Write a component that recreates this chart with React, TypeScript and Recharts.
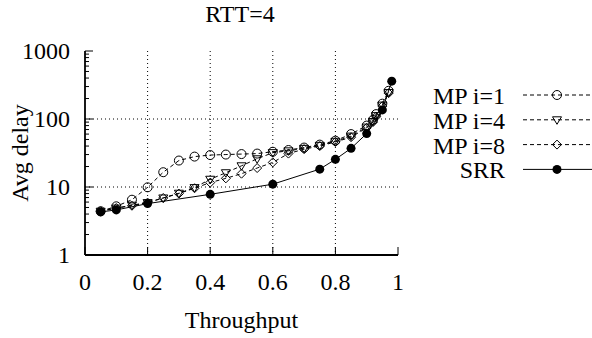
import { LineChart, Line, XAxis, YAxis, CartesianGrid, Legend } from "recharts";

const FONT = '"Liberation Serif", "Times New Roman", serif';
const FONT_SIZE = 24;
const textStyle = { fontFamily: FONT, fontSize: FONT_SIZE, fill: "#000" };

// throughput samples shared by the three MP runs
const mpThroughput = [
  0.05, 0.1, 0.15, 0.2, 0.25, 0.3, 0.35, 0.4, 0.45, 0.5, 0.55, 0.6, 0.65, 0.7,
  0.75, 0.8, 0.85, 0.9, 0.92, 0.93, 0.95, 0.97,
];
const mp1Delay = [
  4.4, 5.2, 6.5, 9.9, 16.5, 24.5, 28, 29.5, 30, 30.5, 31, 33, 35, 38, 42, 48,
  60, 80, 97, 118, 168, 260,
];
const mp4Delay = [
  4.4, 4.9, 5.4, 5.9, 6.9, 8.1, 9.8, 13, 16.2, 20.5, 26, 32, 34, 37, 41, 47, 56,
  76, 92, 112, 160, 245,
];
const mp8Delay = [
  4.4, 4.9, 5.3, 5.9, 6.9, 8.0, 9.6, 11.6, 13.4, 15.7, 19, 23, 31, 36, 40, 46,
  54, 74, 90, 108, 155, 240,
];

const srrThroughput = [0.05, 0.1, 0.2, 0.4, 0.6, 0.75, 0.8, 0.85, 0.9, 0.95, 0.98];
const srrDelay = [4.3, 4.6, 5.7, 7.8, 11, 18.3, 25.5, 37, 61, 136, 360];

const xTicks = [0, 0.2, 0.4, 0.6, 0.8, 1];
const xGrid = [0.2, 0.4, 0.6, 0.8];
const yMajor = [1, 10, 100, 1000];
const yGrid = [10, 100];
// log minor tics 2..9 inside every decade
const yMinor = yMajor
  .slice(0, -1)
  .flatMap((d) => [2, 3, 4, 5, 6, 7, 8, 9].map((k) => d * k));
const yTicks = [...yMajor, ...yMinor].sort((a, b) => a - b);

const Y_LABEL_GAP = 15;

type Shape = "circle" | "triangle" | "diamond" | "dot";

const toPoints = (xs: number[], ys: number[]) =>
  xs.map((t, i) => ({ throughput: t, delay: ys[i] }));

const series: { name: string; data: any[]; shape: Shape; dash?: string }[] = [
  { name: "MP i=1", data: toPoints(mpThroughput, mp1Delay), shape: "circle", dash: "4 3" },
  { name: "MP i=4", data: toPoints(mpThroughput, mp4Delay), shape: "triangle", dash: "4 3" },
  { name: "MP i=8", data: toPoints(mpThroughput, mp8Delay), shape: "diamond", dash: "4 3" },
  { name: "SRR", data: toPoints(srrThroughput, srrDelay), shape: "dot" },
];

function Marker({ cx, cy, shape }: { cx: number; cy: number; shape: Shape }) {
  const r = 4.5;
  if (shape === "dot") return <circle cx={cx} cy={cy} r={r} fill="#000" />;
  if (shape === "circle")
    return <circle cx={cx} cy={cy} r={r} fill="none" stroke="#000" strokeWidth={1} />;
  if (shape === "triangle")
    return (
      <polygon
        points={`${cx - r},${cy - 3} ${cx + r},${cy - 3} ${cx},${cy + r}`}
        fill="none"
        stroke="#000"
        strokeWidth={1}
      />
    );
  return (
    <polygon
      points={`${cx},${cy - r} ${cx + r},${cy} ${cx},${cy + r} ${cx - r},${cy}`}
      fill="none"
      stroke="#000"
      strokeWidth={1}
    />
  );
}

// ─── Axis tics (gnuplot style: drawn inward, mirrored) ───────────────────────

function LeftTick({ x, y, payload }: any) {
  const ax = x + Y_LABEL_GAP;
  const major = yMajor.includes(payload.value);
  return (
    <g>
      <line x1={ax} x2={ax + (major ? 8 : 4)} y1={y} y2={y} stroke="#000" />
      {major && (
        <text x={x} y={y + 8} textAnchor="end" style={textStyle}>
          {payload.value}
        </text>
      )}
    </g>
  );
}

function RightTick({ x, y, payload }: any) {
  const major = yMajor.includes(payload.value);
  return <line x1={x} x2={x - (major ? 8 : 4)} y1={y} y2={y} stroke="#000" />;
}

function BottomTick({ x, y, payload }: any) {
  return (
    <g>
      <line x1={x} x2={x} y1={y} y2={y - 8} stroke="#000" />
      <text x={x} y={y + 35} textAnchor="middle" style={textStyle}>
        {payload.value}
      </text>
    </g>
  );
}

function TopTick({ x, y }: any) {
  return <line x1={x} x2={x} y1={y} y2={y + 8} stroke="#000" />;
}

function XTitle({ viewBox }: any) {
  return (
    <text x={viewBox.x + viewBox.width / 2} y={viewBox.y + 73} textAnchor="middle" style={textStyle}>
      Throughput
    </text>
  );
}

function YTitle({ viewBox }: any) {
  const x = viewBox.x + 3;
  const y = viewBox.y + viewBox.height / 2;
  return (
    <text x={x} y={y} transform={`rotate(-90, ${x}, ${y})`} textAnchor="middle" style={textStyle}>
      Avg delay
    </text>
  );
}

function KeyBox({ payload }: any) {
  return (
    <svg width={172} height={110}>
      {(payload ?? []).map((entry: any, i: number) => {
        const s = series.find((it) => it.name === entry.value);
        if (!s) return null;
        const base = 24 + i * 24.8;
        const ly = base - 9;
        return (
          <g key={s.name}>
            <text x={85} y={base} textAnchor="end" style={textStyle}>
              {s.name}
            </text>
            <line x1={103} x2={172} y1={ly} y2={ly} stroke="#000" strokeDasharray={s.dash} />
            <Marker cx={137} cy={ly} shape={s.shape} />
          </g>
        );
      })}
    </svg>
  );
}

export default function App() {
  return (
    <div style={{ position: "absolute", left: 0, top: 0, width: 592, height: 338, background: "#fff" }}>
      <svg width={592} height={30} style={{ position: "absolute", left: 0, top: 0 }}>
        <text x={240} y={21.5} textAnchor="middle" style={textStyle}>
          RTT=4
        </text>
      </svg>
      <LineChart
        width={592}
        height={338}
        margin={{ top: 51, right: 194, left: 25, bottom: 3 }}
        style={{ position: "absolute", left: 0, top: 0 }}
      >
        <CartesianGrid
          horizontalValues={yGrid}
          verticalValues={xGrid}
          stroke="#000"
          strokeDasharray="1 3"
          strokeWidth={1}
        />
        <XAxis
          dataKey="throughput"
          type="number"
          domain={[0, 1]}
          ticks={xTicks}
          interval={0}
          allowDataOverflow
          height={80}
          tickSize={0}
          tickMargin={0}
          tickLine={false}
          axisLine={{ stroke: "#000", strokeWidth: 1.8 }}
          tick={<BottomTick />}
          label={{ content: XTitle }}
        />
        <XAxis
          xAxisId="top"
          orientation="top"
          type="number"
          domain={[0, 1]}
          ticks={xTicks}
          interval={0}
          allowDataOverflow
          height={0}
          tickSize={0}
          tickMargin={0}
          tickLine={false}
          axisLine={{ stroke: "#000", strokeWidth: 1.8 }}
          tick={<TopTick />}
        />
        <YAxis
          type="number"
          scale="log"
          domain={[1, 1000]}
          ticks={yTicks}
          interval={0}
          allowDataOverflow
          width={60}
          tickSize={0}
          tickMargin={Y_LABEL_GAP}
          tickLine={false}
          axisLine={{ stroke: "#000", strokeWidth: 1.8 }}
          tick={<LeftTick />}
          label={{ content: YTitle }}
        />
        <YAxis
          yAxisId="right"
          orientation="right"
          type="number"
          scale="log"
          domain={[1, 1000]}
          ticks={yTicks}
          interval={0}
          allowDataOverflow
          width={0}
          tickSize={0}
          tickMargin={0}
          tickLine={false}
          axisLine={{ stroke: "#000", strokeWidth: 1.8 }}
          tick={<RightTick />}
        />
        {series.map((s) => (
          <Line
            key={s.name}
            name={s.name}
            data={s.data}
            dataKey="delay"
            stroke="#000"
            strokeWidth={1}
            strokeDasharray={s.dash}
            dot={(p: any) => <Marker key={`${s.name}-${p.index}`} cx={p.cx} cy={p.cy} shape={s.shape} />}
            activeDot={false}
            isAnimationActive={false}
          />
        ))}
        <Legend
          layout="vertical"
          align="center"
          verticalAlign="middle"
          wrapperStyle={{ left: 420, top: 80, width: 172, height: 110 }}
          content={<KeyBox />}
        />
      </LineChart>
    </div>
  );
}
